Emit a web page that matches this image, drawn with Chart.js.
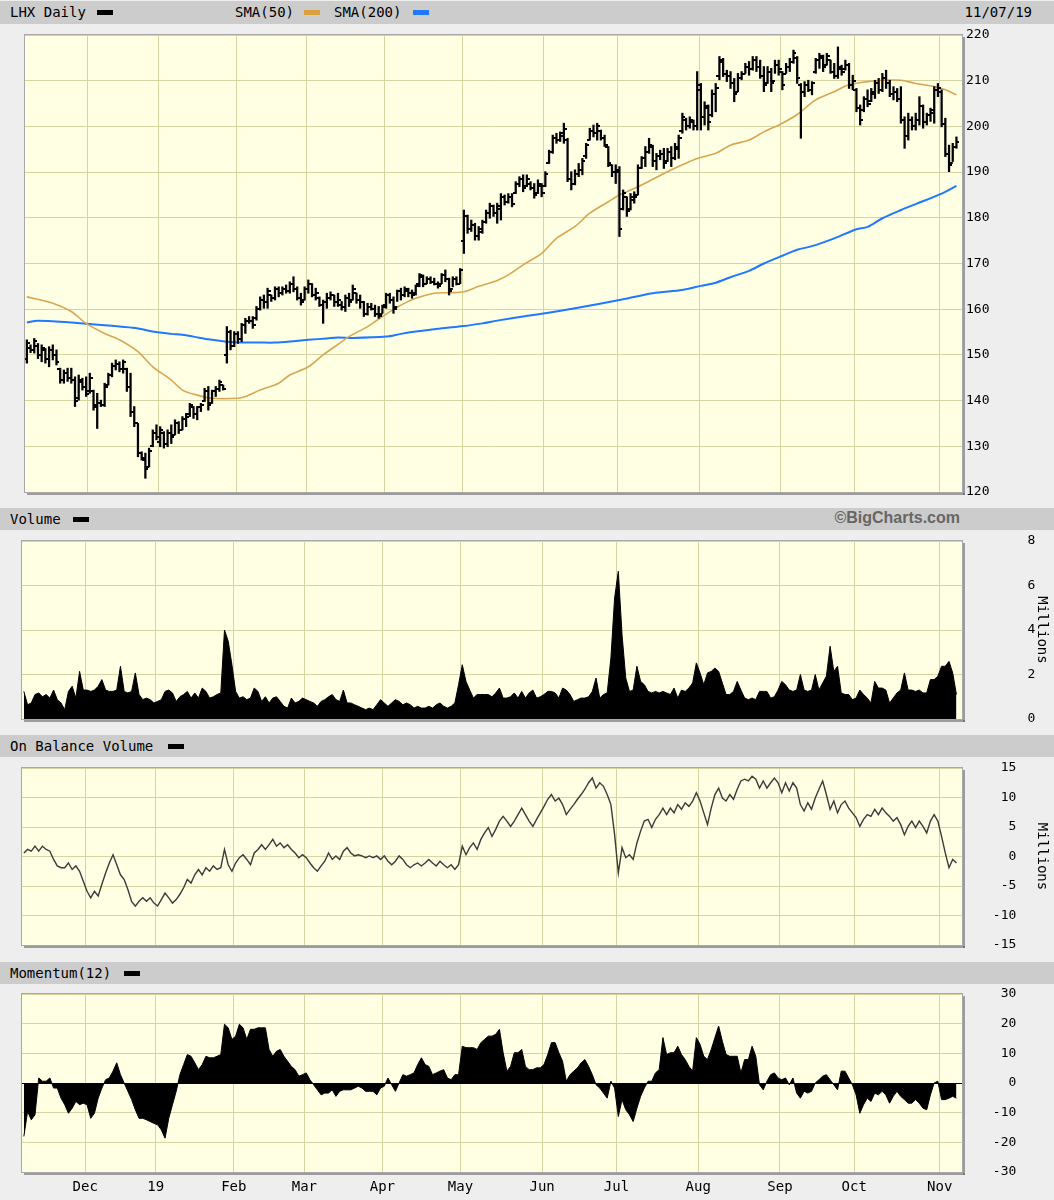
<!DOCTYPE html>
<html><head><meta charset="utf-8">
<script src="https://cdn.jsdelivr.net/npm/chart.js@4.4.1/dist/chart.umd.min.js"></script>
<style>
body{margin:0;background:#eeeeee;width:1054px;height:1200px;position:relative;overflow:hidden;font-family:"DejaVu Sans Mono",monospace;}
.band{position:absolute;left:0;width:1054px;background:#cccccc;height:22px;}
.lbl{position:absolute;font-size:14px;line-height:16px;color:#000;white-space:nowrap;}
.sw{position:absolute;width:16px;height:5px;}
canvas{position:absolute;left:20px;}
</style></head>
<body>
<div class="band" style="top:1px;height:23px"></div>
<div class="lbl" style="left:10px;top:4px">LHX Daily</div><div class="sw" style="left:97px;top:10px;background:#000"></div>
<div class="lbl" style="left:235px;top:4px">SMA(50)</div><div class="sw" style="left:304px;top:10px;background:#d9a03c"></div>
<div class="lbl" style="left:334px;top:4px">SMA(200)</div><div class="sw" style="left:413px;top:10px;background:#1f78ff"></div>
<div class="lbl" style="right:22px;top:4px">11/07/19</div>

<div class="band" style="top:508px"></div>
<div class="lbl" style="left:10px;top:511px">Volume</div><div class="sw" style="left:73px;top:517px;background:#000"></div>
<div class="lbl" style="right:94px;top:510px;font-family:'Liberation Sans',sans-serif;font-weight:bold;font-size:16px;color:#666">©BigCharts.com</div>

<div class="band" style="top:735px"></div>
<div class="lbl" style="left:10px;top:738px">On Balance Volume</div><div class="sw" style="left:168px;top:744px;background:#000"></div>

<div class="band" style="top:962px"></div>
<div class="lbl" style="left:10px;top:965px">Momentum(12)</div><div class="sw" style="left:124px;top:971px;background:#000"></div>

<canvas id="cPrice" width="1034" height="477" style="top:25px"></canvas>
<canvas id="cVol" width="1034" height="198" style="top:531px"></canvas>
<canvas id="cObv" width="1034" height="197" style="top:758px"></canvas>
<canvas id="cMom" width="1034" height="213" style="top:984px"></canvas>

<script>
// ---- tick labels / categories ----
const monthStart = [17,36,57,76,97,118,140,160,182,204,224,247];
const monthLabels = ['Dec','19','Feb','Mar','Apr','May','Jun','Jul','Aug','Sep','Oct','Nov'];
const dayCount = 252;

// ---- daily OHLC (Nov 7 2018 .. Nov 7 2019) ----
const priceHigh = [
153.3,152.2,153.6,152.5,152.2,151.4,151.8,152.2,151.1,147.1,
146.7,147.1,147.1,145.2,145.6,144.9,145.2,146.0,142.3,141.6,
140.1,143.8,146.0,148.2,148.9,148.5,148.9,147.1,146.0,138.7,
135.0,128.8,128.5,129.6,133.6,134.7,134.3,133.2,133.6,134.7,
135.8,135.4,136.5,137.2,139.4,138.7,138.7,139.4,142.7,143.1,
142.3,143.1,144.5,143.4,156.2,155.4,155.1,155.1,156.9,158.0,
158.4,158.4,160.6,162.7,163.1,164.6,163.1,164.9,164.9,164.9,
165.3,166.0,167.1,164.9,163.5,164.9,166.4,165.6,164.6,162.7,
162.0,163.5,163.8,163.1,163.5,161.7,163.1,163.5,165.3,163.5,
163.1,161.7,161.3,161.3,160.9,160.6,160.9,163.5,163.5,162.7,
164.2,164.6,164.9,164.6,164.2,165.3,167.8,167.5,167.1,167.1,
166.8,166.0,167.8,168.6,166.8,167.1,167.1,168.9,181.7,180.6,
179.5,178.8,178.1,179.5,181.7,183.2,182.8,183.2,185.3,185.0,
185.3,185.3,187.9,189.0,189.4,189.4,187.9,187.5,188.3,187.5,
190.1,194.8,198.1,198.5,198.8,200.7,197.4,190.1,190.5,191.9,
193.0,196.3,199.6,200.3,200.7,199.2,198.1,195.6,191.6,191.6,
191.2,186.1,184.6,185.3,185.7,191.6,193.4,195.6,197.4,195.9,
194.1,194.8,195.2,195.2,195.6,196.3,198.1,202.9,201.8,202.1,
201.4,212.0,209.4,205.4,204.7,208.0,209.4,215.3,214.9,212.3,
212.0,210.5,211.6,212.0,213.8,214.2,215.3,215.3,214.5,213.1,
213.1,212.7,214.5,214.5,212.0,213.8,214.9,216.7,215.3,209.4,
209.8,210.1,209.8,214.9,216.0,215.6,216.0,214.5,213.8,217.4,
213.4,214.5,213.8,211.2,208.3,204.7,206.5,208.0,208.3,210.1,
210.5,211.6,212.3,210.1,208.7,208.3,208.7,202.1,202.9,202.1,
202.9,206.5,204.7,202.9,204.0,208.7,209.4,208.0,201.8,195.9,
196.3,197.7];
const priceLow = [
148.2,150.5,150.4,149.2,148.5,148.2,147.4,148.9,147.8,143.8,
143.8,144.2,143.8,138.7,140.1,142.3,140.9,141.6,137.9,133.9,
138.7,138.7,143.4,145.2,146.7,146.3,146.0,142.0,136.5,134.3,
127.7,127.0,123.0,125.5,129.9,131.4,129.9,129.6,129.9,130.6,
132.5,132.8,133.6,134.3,136.5,136.1,135.8,137.6,139.8,137.9,
139.4,140.9,142.0,142.3,148.2,151.1,151.8,152.5,152.9,154.7,
156.9,155.8,157.6,159.8,160.2,160.2,161.7,162.0,162.7,163.1,
163.5,163.5,163.8,162.0,160.9,162.0,163.5,162.7,162.0,160.6,
156.9,160.2,162.0,160.6,160.6,159.8,159.5,160.6,162.0,161.3,
160.2,158.4,158.7,159.8,158.4,158.0,159.1,160.2,161.3,159.1,
161.7,162.0,162.7,162.7,162.4,163.1,164.9,164.9,165.6,165.6,
165.3,164.6,165.6,166.0,163.1,164.9,165.3,165.6,172.2,176.6,
177.0,175.1,175.1,176.6,178.8,179.9,180.3,178.8,179.5,182.8,
183.2,182.4,185.3,186.8,185.7,186.8,186.1,184.3,185.3,184.6,
186.8,191.9,194.1,196.3,196.7,196.3,187.9,186.1,187.2,189.0,
189.4,193.0,197.0,197.7,197.0,197.0,195.6,191.2,189.0,187.5,
175.9,181.7,180.3,181.7,183.2,185.0,190.8,191.2,194.1,191.2,
190.5,192.7,190.8,192.3,191.2,192.7,193.0,198.5,199.2,199.6,
199.2,199.2,199.2,200.3,199.2,202.1,203.2,210.2,210.9,209.8,
208.3,205.4,207.6,210.2,211.6,211.2,212.3,212.0,210.5,207.6,
209.4,207.6,211.6,211.2,208.0,211.6,212.0,213.8,209.4,197.4,
206.5,207.6,206.9,211.6,212.7,212.0,213.4,211.6,210.5,210.5,
211.2,212.3,208.3,208.0,203.2,200.3,203.2,204.3,205.4,206.1,
207.2,207.6,208.3,206.5,205.8,205.4,200.7,195.2,197.0,199.2,
199.2,200.3,199.6,200.3,201.1,200.7,206.5,199.9,193.4,190.1,
192.3,195.2];
const priceOpen = [
149,151.5,151,152,150,151,149,151,150,147,
144.5,146,145,144.5,140.5,144,143,142,142,139,
139.5,139,143.5,145.5,147.5,148,147,147,143,137.5,
135,128.5,127,125.5,130,133,131,133,130.5,133,
132.5,135,133.5,136,137,138.5,137,138.5,140,142,
139.5,142,142.5,143.5,150,155,152,154.5,153.5,156.5,
157.5,157.5,158,160,162,161.5,163,162.5,164.5,163.5,
164.5,164,165.5,164.5,162.5,162,164.5,165.5,163,162.5,
161,161.5,162.5,163,161.5,161,160.5,162.5,162,163.5,
162,161.5,159,160.5,160,159,159,161,163,162,
160.5,164,163,164,163.5,163.5,165.5,167,165.5,166.5,
166,165.5,165.5,167.5,166.5,164.5,166.5,165.5,175,180.5,
177.5,178.5,176,177,179,181,182.5,181,182,184.5,
183.5,184.5,185.5,187.5,188.5,187,187.5,186.5,185.5,187,
187,192,194.5,197.5,197,198,197,188.5,187.5,189.5,
190.5,193.5,197,199,198.5,199,197.5,195.5,191.5,190,
190,182,184.5,182,184,185,191,193,194.5,195.5,
192.5,193.5,194,192.5,194.5,193,195,199,201.5,200,
201,200,208,202,204,202.5,207,211,214,211.5,
211,209.5,207.5,210.5,211.5,213,212.5,214.5,213,211,
209.5,212,210,213.5,212,211.5,213,214,215,209,
207.5,209,208,212,214.5,215,213.5,214.5,212,211,
212.5,212.5,213.5,209,208,204,203.5,206,205.5,207,
209.5,208,210.5,209.5,207,207.5,206,201.5,198,201.5,
200,201.5,204.5,201,202.5,203,208,207.5,200.5,194,
192,195.5];
const priceClose = [
152.5,151,153,150,151.5,149,151,150,148.5,144.5,
146,145,144.5,140,144.5,143,141.5,145,138.5,139.5,
139,143,145.5,147.5,148,147,148.5,143,137.5,135,
128.5,127.5,125,129,133,132,133.5,130.5,133,132,
135,133.5,136,136.5,139,137,138.5,139,142,139,
142,142.5,144,142.5,155,152,154.5,153.5,156.5,157.5,
157.5,156.5,160,162,161.5,164,162.5,164.5,163.5,164.5,
164,165.5,164.5,162.5,161.5,164.5,165.5,163,163.5,161,
161.5,162.5,163,161.5,162,160.5,162.5,161.5,164.5,162,
161.5,159,160.5,160,159,158.5,160.5,163,162,160,
164,163,164.5,163.5,163,165,167.5,165.5,166.5,166,
165.5,165,167.5,166.5,164,166.5,165.5,168.5,180.5,177.5,
178.5,176,177.5,179,181,182.5,181,182.5,184.5,183.5,
184.5,183,187.5,188.5,186.5,188.5,186.5,185,187.5,185.5,
189.5,194.5,197.5,197,198.5,199.5,188.5,187.5,189.5,190.5,
192.5,196,199,198.5,200,197.5,196,192,190,190.5,
177.5,185.5,181.5,184.5,184.5,191,193,194.5,196,192.5,
193.5,194,192,194.5,193,195.5,197.5,202,200,201.5,
200,209,202,204.5,201,207,208.5,214.5,211.5,211,
209.5,207,210.5,211.5,213,212.5,214.5,213,211,209,
212,209.5,213.5,212.5,209,213,214,216,210.5,207.5,
209,208,209.5,214.5,215.5,213,215.5,212,211,213,
212,213.5,209,210,204,201.5,206,205,207.5,209.5,
208,210.5,209.5,207,207.5,206,201.5,198,201.5,200,
201.5,204.5,201,202.5,203.5,208,208.5,200.5,194,191.5,
195.5,196.5];

// ---- moving averages (sampled at trading-day index) ----
const sma50Day = [0,7,12,16,21,25,30,34,39,42,46,50,57,59,63,68,71,76,80,84,87,92,96,101,105,110,114,118,122,127,130,134,139,143,148,152,157,160,164,168,172,177,181,186,190,195,199,204,208,213,218,222,227,231,236,240,245,248,251];
const sma50Val = [162.7,161.3,159.5,156.9,154.7,153.3,150.7,147.4,144.5,142.3,141.2,140.5,140.5,140.9,142.3,143.8,145.6,147.4,150.0,152.3,154.0,156.2,158.4,160.9,162.4,163.5,163.6,163.8,165.0,166.3,167.5,169.7,172.2,175.5,178.1,181.0,183.5,185.0,186.4,188.0,189.7,191.6,193.0,194.1,195.9,197.0,198.8,200.7,202.6,205.8,207.6,209.1,209.8,210.1,210.1,209.4,208.7,208.0,206.9];
const sma200Day = [0,3,12,16,21,25,30,34,39,42,45,49,54,58,63,67,72,76,81,84,88,97,101,105,110,114,118,123,127,134,140,148,160,169,177,182,186,190,195,199,204,208,212,218,224,227,231,236,240,247,251];
const sma200Val = [157.1,157.5,157.1,156.8,156.5,156.2,155.8,155.1,154.6,154.4,154.0,153.4,152.9,152.7,152.7,152.7,153.0,153.3,153.6,153.8,153.7,154.0,154.6,155.1,155.6,156.0,156.3,156.9,157.5,158.4,159.1,160.2,162.0,163.5,164.2,165.1,165.8,167.0,168.4,170.0,171.7,173.0,173.8,175.5,177.5,178.0,179.9,181.7,183.0,185.3,187.0];

// ---- volume (millions) ----
const volume = [
1.24,0.64,0.72,1.1,1.17,1.0,1.1,0.94,1.3,0.87,
0.72,0.42,1.24,1.47,0.94,2.14,1.3,1.3,1.24,1.3,
1.47,1.77,1.3,1.24,1.24,1.3,2.37,1.24,1.17,1.24,
2.07,1.1,0.87,0.94,0.87,0.72,0.79,0.87,1.24,1.3,
1.17,0.79,1.0,1.1,1.24,0.94,1.17,0.94,1.39,1.24,
0.94,1.0,1.1,1.17,4.0,3.5,2.44,1.24,0.94,1.0,
0.87,0.94,1.39,1.24,0.79,1.0,0.72,0.94,1.0,0.79,
0.57,0.49,0.94,0.72,0.79,0.94,0.87,0.79,0.72,0.57,
0.79,0.87,1.0,1.1,0.87,0.79,1.3,0.72,0.72,0.64,
0.57,0.49,0.42,0.49,0.42,0.64,0.87,0.72,0.57,0.72,
0.87,0.79,0.64,0.72,0.64,0.49,0.57,0.49,0.49,0.57,
0.49,0.64,0.72,0.57,0.49,0.57,0.72,1.54,2.44,1.69,
1.3,0.94,1.1,1.1,1.1,1.1,1.0,1.17,1.39,0.94,
0.94,1.0,1.17,0.94,1.24,0.94,1.17,1.3,0.94,1.0,
1.1,1.24,1.24,1.17,0.94,1.39,1.3,1.1,0.79,0.87,
0.94,0.94,1.0,1.24,1.84,0.94,1.1,1.17,2.74,5.44,
6.64,3.79,1.84,1.24,1.3,2.37,1.69,1.54,1.24,1.17,
1.24,1.17,1.24,1.17,1.1,1.39,0.94,1.3,1.24,1.39,
1.62,2.52,2.07,1.54,2.07,2.14,2.29,2.14,1.62,1.1,
1.1,1.24,1.69,1.3,0.94,0.87,0.94,0.87,1.24,1.24,
1.24,0.94,1.0,1.3,1.69,1.54,1.3,1.24,1.3,2.0,
1.3,1.24,1.3,2.0,1.3,1.62,1.92,3.27,2.14,2.37,
1.17,1.1,1.1,0.87,0.94,1.3,1.1,0.94,0.72,1.69,
1.39,1.39,1.3,0.72,0.94,1.17,1.3,2.07,1.3,1.3,
1.24,1.3,1.17,1.17,1.77,1.77,1.92,2.37,2.37,2.59,
2.07,1.1];

// ---- on balance volume (millions) ----
const obv = [
0.6,1.2,0.9,1.75,0.9,1.75,1.2,0.9,-0.5,-1.6,
-1.9,-1.9,-1.1,-2.2,-1.6,-2.5,-4.2,-5.9,-7.0,-5.9,
-6.7,-4.7,-2.8,-1.1,0.3,-1.4,-3.1,-3.9,-5.6,-7.6,
-8.4,-7.6,-7.0,-7.6,-7.0,-7.9,-8.4,-7.3,-6.2,-7.0,
-7.9,-7.3,-6.4,-5.3,-3.9,-4.5,-3.1,-2.2,-3.1,-1.9,
-2.5,-1.6,-2.2,-1.9,1.2,-1.4,-2.5,-1.1,-0.2,0.3,
-0.5,-1.4,0.6,1.2,2.0,1.2,2.0,2.9,1.75,2.3,
1.5,2.0,1.2,0.6,-0.2,0.3,-0.2,-1.1,-1.9,-2.5,
-1.6,-0.8,0.6,-0.5,0.1,-0.5,0.9,1.5,0.6,0.1,
0.3,0.1,-0.2,0.1,-0.2,0.1,-0.5,0.1,-0.8,-1.4,
-0.8,0.1,-0.5,-1.4,-1.9,-1.4,-1.1,-1.6,-1.1,-0.5,
-1.1,-1.6,-0.8,-1.4,-1.9,-1.4,-2.2,-1.4,1.75,0.3,
1.5,2.3,1.2,2.9,4.0,4.9,3.4,4.6,6.0,6.8,
6.0,5.1,6.0,7.1,8.2,7.1,6.0,5.1,6.3,7.4,
8.5,9.7,10.5,9.4,9.9,8.8,7.1,8.0,8.8,9.7,
10.5,11.4,12.5,13.3,11.6,12.5,11.9,10.5,8.8,3.7,
-2.8,1.5,-0.2,0.3,-0.5,2.3,4.3,6.0,6.3,4.9,
6.3,7.1,8.2,7.1,8.2,7.4,8.8,8.0,9.1,8.5,
9.4,10.8,9.4,7.4,5.4,8.2,10.5,11.6,9.9,9.4,
10.5,9.7,11.4,12.8,13.1,12.8,13.6,13.1,11.6,12.8,
11.6,12.5,13.3,12.5,10.8,12.5,11.1,12.5,11.6,8.8,
7.7,9.1,8.0,9.9,11.4,12.8,10.5,8.0,9.4,7.4,
8.8,9.4,8.2,7.4,6.6,5.1,6.3,7.1,6.8,8.0,
7.1,8.2,7.4,6.8,6.0,6.6,5.4,3.7,5.1,6.0,
4.9,6.0,5.1,4.0,6.0,7.1,6.0,3.4,0.6,-1.9,
-0.5,-1.1];

// ---- momentum (12) ----
const momentum = [
-18,-9.6,-12.4,-10.7,1.7,0.6,0.6,1.7,-1.7,-1.7,
-5.1,-7.3,-10.2,-8.5,-6.2,-7.3,-6.8,-7.3,-11.9,-10.2,
-5.1,-1.7,1.1,1.7,4.0,6.8,2.8,0,-2.8,-5.6,
-9.0,-11.9,-11.9,-12.4,-13.0,-13.6,-14.1,-15.8,-18.6,-11.9,
-7.3,-2.8,2.8,6.2,9.6,9.0,6.8,4.5,6.2,9.0,
8.5,8.5,9.0,9.6,19.8,18.6,14.7,15.8,19.8,18.6,
14.7,18.1,18.1,18.6,18.6,18.6,11.3,9.0,10.7,11.3,
9.0,7.3,5.6,4.5,2.3,2.8,3.4,1.1,-0.6,-2.3,
-4.0,-3.4,-3.4,-2.3,-4.5,-2.8,-2.3,-2.3,-2.3,-1.7,
-1.1,-1.7,-2.8,-2.8,-2.8,-4.0,-1.7,-1.1,1.7,-0.6,
-2.8,0,2.8,2.3,2.8,3.4,6.2,8.5,6.2,5.6,
2.8,3.4,4.0,4.5,1.7,1.1,2.8,2.8,12.4,11.9,
11.9,11.9,11.3,13.6,14.7,15.8,15.8,16.4,18.1,10.2,
4.0,5.6,10.2,10.2,11.3,5.6,4.5,4.5,5.1,5.1,
6.2,9.6,13.6,13.6,10.2,7.3,0.6,2.8,4.0,5.1,
6.8,7.9,5.6,2.8,-0.6,-1.7,-3.4,-5.1,0.6,-1.7,
-11.3,-5.6,-9.0,-10.7,-13.0,-8.5,-4.5,-1.7,0.6,0.6,
3.4,4.5,15.3,9.6,10.2,10.2,12.4,9.6,7.9,5.6,
4.0,15.3,13.0,9.0,7.9,11.3,15.3,19.2,14.1,9.6,
9.0,9.0,9.0,3.4,7.9,7.9,12.4,9.0,-0.6,-2.3,
0.6,2.8,3.4,1.7,1.1,1.7,-0.6,1.7,-3.4,-5.1,
-2.8,-3.4,-2.8,0,1.1,2.3,2.8,1.1,-0.6,-2.3,
4.0,4.0,1.7,-0.6,-4.0,-10.2,-7.3,-5.1,-6.2,-3.4,
-4.0,-2.8,-4.0,-6.8,-4.5,-2.8,-4.5,-5.6,-6.8,-6.8,
-5.6,-6.8,-8.5,-9.0,-4.0,0,0.6,-5.6,-5.6,-5.1,
-4.5,-5.1];

// ---- styling ----
const GRID = '#d5d5a2';
const PLOT_BG = '#ffffe4';
const FONT = '"DejaVu Sans Mono", monospace';

const framePlugin = {
  id: 'frame',
  beforeDraw(chart) {
    const {ctx, chartArea: a} = chart;
    ctx.save();
    ctx.fillStyle = PLOT_BG;
    ctx.fillRect(a.left, a.top, a.right - a.left, a.bottom - a.top);
    ctx.restore();
  },
  afterDraw(chart) {
    const {ctx, chartArea: a} = chart;
    ctx.save();
    ctx.fillStyle = 'rgba(90,90,90,0.55)';
    ctx.fillRect(a.right + 1, a.top + 2, 2, a.bottom - a.top + 1);
    ctx.fillRect(a.left + 2, a.bottom + 1, a.right - a.left + 1, 2);
    ctx.strokeStyle = '#a8a8a8';
    ctx.lineWidth = 1;
    ctx.strokeRect(a.left - 0.5, a.top - 0.5, a.right - a.left + 1, a.bottom - a.top + 1);
    ctx.restore();
  }
};

const slot = i => i + 0.5;   // data coordinate of trading day i

function xAxis(showLabels) {
  return {
    type: 'linear', min: 0, max: dayCount + 1, offset: false,
    afterBuildTicks: s => { s.ticks = monthStart.map(v => ({value: v})); },
    afterFit: s => { s.height = showLabels ? 25 : 0; },
    grid: {color: GRID, lineWidth: 1, drawTicks: false, offset: false},
    border: {display: false},
    ticks: {
      display: showLabels, padding: 7, color: '#000', maxRotation: 0, autoSkip: false,
      font: {family: FONT, size: 14},
      callback: v => monthLabels[monthStart.indexOf(v)]
    }
  };
}
// padW: monospace label field width (right-justified labels), 0 = plain left-aligned
function yAxis(min, max, step, title, zeroBlack, padW, pad) {
  return {
    position: 'right', min, max,
    afterFit: s => { s.width = 92; s.paddingTop = 8; s.paddingBottom = 8; },
    grid: {
      color: c => (zeroBlack && c.tick && c.tick.value === 0) ? '#000' : GRID,
      lineWidth: 1, drawTicks: false
    },
    border: {display: false},
    ticks: {
      stepSize: step, padding: pad, crossAlign: 'near', color: '#000', font: {family: FONT, size: 13},
      callback: v => padW ? String(v).padStart(padW, ' ') : String(v)
    },
    title: title ? {display: true, text: title, color: '#000', font: {family: FONT, size: 14}, padding: {top: 4, bottom: 0}} : {display: false}
  };
}
const baseOpts = (pad) => ({
  responsive: false, animation: false, devicePixelRatio: 1,
  layout: {padding: pad},
  plugins: {legend: {display: false}, tooltip: {enabled: false}},
  elements: {point: {radius: 0}}
});

// tick images for open (left) / close (right)
function tickImg(left) {
  const c = document.createElement('canvas');
  c.width = 6; c.height = 2;
  const g = c.getContext('2d');
  g.fillStyle = '#000';
  g.fillRect(left ? 0 : 3, 0, 3, 2);
  return c;
}
const openTick = tickImg(true), closeTick = tickImg(false);

// ---- price panel ----
new Chart(document.getElementById('cPrice'), {
  type: 'line',
  data: {datasets: [
    {type: 'line', label: 'SMA(200)', data: sma200Day.map((d, k) => ({x: slot(d), y: sma200Val[k]})),
     borderColor: '#1f78ff', borderWidth: 2, pointRadius: 0, tension: 0.3, order: 3},
    {type: 'line', label: 'SMA(50)', data: sma50Day.map((d, k) => ({x: slot(d), y: sma50Val[k]})),
     borderColor: '#d9a552', borderWidth: 1.6, pointRadius: 0, tension: 0.3, order: 2},
    {type: 'bar', label: 'High-Low', data: priceHigh.map((h, i) => ({x: slot(i), y: [priceLow[i], h]})),
     backgroundColor: '#000', borderWidth: 0, barThickness: 1.6, grouped: false, order: 1},
    {type: 'line', label: 'Open', data: priceOpen.map((o, i) => ({x: slot(i), y: o})),
     showLine: false, pointStyle: openTick, pointRadius: 1, order: 0},
    {type: 'line', label: 'Close', data: priceClose.map((c, i) => ({x: slot(i), y: c})),
     showLine: false, pointStyle: closeTick, pointRadius: 1, order: 0}
  ]},
  options: Object.assign(baseOpts({top: 10, bottom: 10, left: 2, right: 0}), {
    scales: {x: xAxis(false), y: yAxis(120, 220, 10, null, false, 0, 4)}
  }),
  plugins: [framePlugin]
});

// ---- volume panel ----
new Chart(document.getElementById('cVol'), {
  type: 'line',
  data: {datasets: [{label: 'Volume', data: volume.map((v, i) => ({x: slot(i), y: v})),
    borderColor: '#000', backgroundColor: '#000', borderWidth: 1, fill: 'origin', pointRadius: 0}]},
  options: Object.assign(baseOpts({top: 10, bottom: 10, left: 2, right: 0}), {
    scales: {x: xAxis(false), y: yAxis(0, 8, 2, 'Millions', false, 4, 42)}
  }),
  plugins: [framePlugin]
});

// ---- OBV panel ----
new Chart(document.getElementById('cObv'), {
  type: 'line',
  data: {datasets: [{label: 'On Balance Volume', data: obv.map((v, i) => ({x: slot(i), y: v})),
    borderColor: '#3a3a3a', borderWidth: 1.4, pointRadius: 0, fill: false}]},
  options: Object.assign(baseOpts({top: 10, bottom: 10, left: 2, right: 0}), {
    scales: {x: xAxis(false), y: yAxis(-15, 15, 5, 'Millions', false, 4, 23)}
  }),
  plugins: [framePlugin]
});

// ---- momentum panel ----
new Chart(document.getElementById('cMom'), {
  type: 'line',
  data: {datasets: [{label: 'Momentum(12)', data: momentum.map((v, i) => ({x: slot(i), y: v})),
    borderColor: '#000', backgroundColor: '#000', borderWidth: 1, fill: 'origin', pointRadius: 0}]},
  options: Object.assign(baseOpts({top: 10, bottom: 0, left: 2, right: 0}), {
    scales: {x: xAxis(true), y: yAxis(-30, 30, 10, null, true, 4, 23)}
  }),
  plugins: [framePlugin]
});
</script>
</body></html>
